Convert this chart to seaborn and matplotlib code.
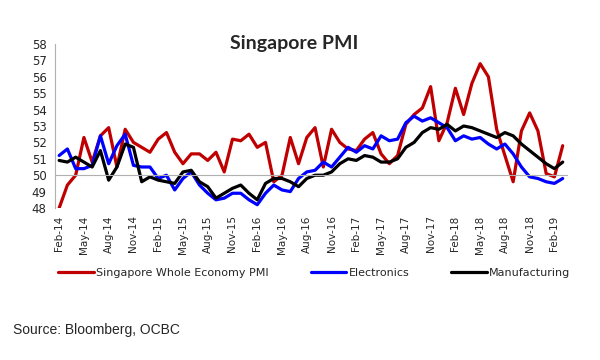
import numpy as np
import pandas as pd
import seaborn as sns
import matplotlib.pyplot as plt

# monthly readings, Feb-14 .. Mar-19
months = pd.date_range('2014-02-01', periods=62, freq='MS')

whole_economy = [48.0, 49.4, 50.0, 52.3, 50.8, 52.4, 52.9, 50.5, 52.8, 52.0,
                 51.7, 51.4, 52.2, 52.6, 51.4, 50.7, 51.3, 51.3, 50.9, 51.4,
                 50.2, 52.2, 52.1, 52.5, 51.7, 52.0, 49.6, 50.0, 52.3, 50.7,
                 52.3, 52.9, 50.5, 52.8, 52.0, 51.6, 51.5, 52.2, 52.6, 51.3,
                 50.7, 51.2, 53.1, 53.7, 54.1, 55.4, 52.1, 53.2, 55.3, 53.7,
                 55.6, 56.8, 56.0, 52.8, 51.2, 49.6, 52.7, 53.8, 52.7, 50.1,
                 49.9, 51.8]

electronics = [51.2, 51.6, 50.4, 50.4, 50.6, 52.4, 50.7, 51.8, 52.5, 50.6,
               50.5, 50.5, 49.8, 50.0, 49.1, 49.8, 50.2, 49.4, 48.9, 48.5,
               48.6, 48.9, 48.9, 48.5, 48.2, 48.9, 49.4, 49.1, 49.0, 49.8,
               50.2, 50.3, 50.8, 50.5, 51.1, 51.7, 51.4, 51.8, 51.6, 52.4,
               52.1, 52.2, 53.2, 53.6, 53.3, 53.5, 53.2, 52.9, 52.1, 52.4,
               52.2, 52.3, 51.9, 51.6, 51.9, 51.3, 50.5, 49.9, 49.8, 49.6,
               49.5, 49.8]

manufacturing = [50.9, 50.8, 51.1, 50.8, 50.5, 51.5, 49.7, 50.5, 51.9, 51.7,
                 49.6, 49.9, 49.7, 49.6, 49.5, 50.2, 50.3, 49.6, 49.3, 48.6,
                 48.9, 49.2, 49.4, 48.9, 48.5, 49.5, 49.8, 49.8, 49.6, 49.3,
                 49.8, 50.0, 50.0, 50.2, 50.7, 51.0, 50.9, 51.2, 51.1, 50.8,
                 50.8, 51.0, 51.7, 52.0, 52.6, 52.9, 52.8, 53.1, 52.7, 53.0,
                 52.9, 52.7, 52.5, 52.3, 52.6, 52.4, 51.9, 51.5, 51.1, 50.7,
                 50.4, 50.8]

labels = [m.strftime('%b-%y') for m in months]
pos = np.arange(len(months))

df = pd.DataFrame({'pos': pos,
                   'Singapore Whole Economy PMI': whole_economy,
                   'Electronics': electronics,
                   'Manufacturing': manufacturing})

sns.set_style('white')
plt.rcParams['font.family'] = ['DejaVu Sans']

fig = plt.figure(figsize=(6, 3.6), dpi=100)
ax = fig.add_axes([0.0917, 0.4222, 0.853, 0.4556])

colors = {'Singapore Whole Economy PMI': '#c00000',
          'Electronics': '#0000ff',
          'Manufacturing': '#000000'}
for name, c in colors.items():
    sns.lineplot(data=df, x='pos', y=name, color=c, linewidth=2.3, label=name, ax=ax)

ax.set_xlim(-0.5, len(months) - 0.5)
ax.set_ylim(48, 58)
ax.set_yticks(range(48, 59))
ax.set_xticks(pos[::3])
ax.set_xticklabels(labels[::3])
ax.set_xticks(np.arange(2.5, len(months), 3), minor=True)
ax.set_xlabel('')
ax.set_ylabel('')

for s in ['top', 'right']:
    ax.spines[s].set_visible(False)
ax.spines['bottom'].set_position(('data', 50))
ax.spines['bottom'].set_color('#b0b0b0')
ax.spines['left'].set_color('#b0b0b0')
ax.tick_params(axis='y', direction='out', length=3, color='#b0b0b0', labelsize=8.5, pad=3)
ax.tick_params(axis='x', which='major', length=0, labelsize=7.5, pad=29, labelrotation=90)
ax.tick_params(axis='x', which='minor', direction='out', length=3, color='#b0b0b0')

ax.get_legend().remove()
h, l = ax.get_legend_handles_labels()
fig.legend(h, l, loc='center left', bbox_to_anchor=(0.08, 0.243), ncol=3,
           frameon=False, fontsize=8, handlelength=3.2, handletextpad=0.2,
           columnspacing=3.8)

fig.text(0.49, 1 - 43 / 360, 'Singapore PMI', ha='center', va='center',
         fontsize=14, fontweight='bold', family='Lato')
fig.text(13 / 600, 1 - 330 / 360, 'Source: Bloomberg, OCBC', ha='left', va='center',
         fontsize=10, family='Liberation Sans')

fig.savefig('out.png', dpi=100)
